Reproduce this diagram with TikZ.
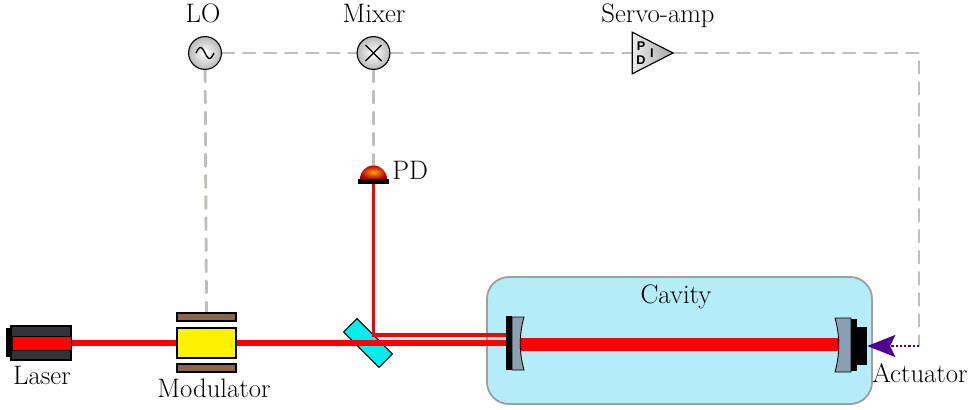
\documentclass[tikz,border=0pt]{standalone}
\usepackage{fontspec}
\newfontfamily\pidfont{Liberation Sans}
\usetikzlibrary{arrows.meta,shapes.geometric,backgrounds}

\definecolor{laserred}{RGB}{255,0,0}
\definecolor{housing}{RGB}{52,50,56}
\definecolor{platebrown}{RGB}{140,100,72}
\definecolor{cavityblue}{RGB}{180,236,250}
\definecolor{signalgray}{RGB}{192,192,186}
\definecolor{mirrorgray}{RGB}{138,160,178}
\definecolor{splitter}{RGB}{0,238,238}
\definecolor{feedback}{RGB}{75,0,145}

\begin{document}
\begin{tikzpicture}[x=0.025cm,y=-0.025cm,
    every node/.style={font=\fontsize{19}{22}\selectfont},
    tag/.style={anchor=base,inner sep=0pt},
    part/.style={draw=black,line width=0.8pt,inner sep=0pt},
    beam/.style={draw=laserred,line width=4pt},
    thinbeam/.style={draw=laserred,line width=2.2pt},
    fatbeam/.style={draw=laserred,line width=9.2pt},
    signal/.style={draw=signalgray,line width=2.1pt,dash pattern=on 8.5pt off 6.5pt,line cap=round},
    osc/.style={circle,part,minimum size=0.82cm,inner color=white,outer color=gray!55},
    pid/.style={inner sep=0pt,font=\pidfont\bfseries\fontsize{9}{10}\selectfont},
  ]
  \useasboundingbox (0,0) rectangle (976,409);

  % source and modulator
  \node[part,fill=housing,minimum width=1.5cm,minimum height=0.85cm] (laser) at (41,343) {};
  \fill[black] (6,328) rectangle (11,357);
  \filldraw[fill=laserred,draw=black,line width=0.6pt] (12,336) rectangle (71,350);
  \node[part,fill=yellow,minimum width=1.475cm,minimum height=0.75cm] (modulator) at (206.5,343) {};
  \node[part,fill=platebrown,minimum width=1.475cm,minimum height=0.2cm] (platetop) at (206.5,317) {};
  \node[part,fill=platebrown,minimum width=1.475cm,minimum height=0.2cm] (platebot) at (206.5,368) {};

  % electronics
  \node[osc] (lo) at (205,53) {};
  \draw[line width=1pt,shift={(lo.center)}] plot[domain=-9:9,samples=40,smooth] (\x,{5.5*sin(20*\x)});
  \node[osc] (mixer) at (373.5,53) {};
  \draw[line width=1pt] ([shift={(-8,-8)}]mixer.center) -- ([shift={(8,8)}]mixer.center)
                        ([shift={(-8,8)}]mixer.center) -- ([shift={(8,-8)}]mixer.center);
  \node[isosceles triangle,isosceles triangle apex angle=54,minimum size=1.02cm,part,
        left color=gray!15,right color=gray!70] (servo) at (645,53) {};
  \node[pid] (servoP) at (641,46) {P};
  \node[pid] (servoD) at (641,60) {D};
  \node[pid] (servoI) at (652,53) {I};

  % photodiode
  \node[fill=black,inner sep=0pt,minimum width=0.78cm,minimum height=0.125cm] (pd) at (373.5,181.5) {};
  \shade[inner color=orange!70!yellow,outer color=red!70!black]
    (360,179) arc[start angle=180,end angle=360,radius=13.5] -- cycle;

  % beam splitter, mirrors
  \node[part,fill=splitter,rotate=-45,minimum width=1.25cm,minimum height=0.475cm] (bs) at (368,343) {};
  \node[fill=black,inner sep=0pt,minimum width=0.15cm,minimum height=1.325cm] (mirrorL) at (509,343) {};
  \node[fill=black,inner sep=0pt,minimum width=0.25cm,minimum height=0.95cm] (actuator) at (862,346) {};
  \fill[black] (851,319) rectangle (857,371);
  \coordinate (fb) at (919,346);

  \begin{pgfonlayer}{background}
    \node[draw=gray!75,line width=1.3pt,fill=cavityblue,rounded corners=0.55cm,
          minimum width=9.625cm,minimum height=3.175cm] (cavity) at (679.5,340.5) {};
    \draw[fatbeam] ([yshift=-0.04cm]mirrorL.east) -- ([yshift=-0.04cm]mirrorL.east -| actuator.west);
    \draw[signal] (lo) -- (mixer);
    \draw[signal] (mixer) -- (servo);
    \draw[signal] (lo) -- (platetop);
    \draw[signal] (mixer) -- (pd);
    \draw[signal] (servo) -| (fb);
  \end{pgfonlayer}

  % optical paths
  \draw[beam] (laser.east) -- (modulator.west);
  \draw[beam] (modulator.east) -- (mirrorL.west);
  \draw[thinbeam] ([yshift=0.2cm]mirrorL.west) -| (pd.south);
  \filldraw[fill=mirrorgray,draw=black,line width=0.6pt]
    (512,317) -- (524,317) .. controls (519,335) and (519,352) .. (524,370) -- (512,370) -- cycle;
  \filldraw[fill=mirrorgray,draw=black,line width=0.6pt]
    (851,318) -- (835,318) .. controls (840,336) and (840,354) .. (835,372) -- (851,372) -- cycle;

  \draw[feedback,line width=1.4pt,dash pattern=on 1.6pt off 1.4pt,-{Stealth[length=7mm,width=5.5mm,inset=1.3mm]}] (fb) -- (actuator.east);

  % labels
  \node[tag] (laserlbl) at (42,384) {Laser};
  \node[tag] (modlbl) at (214,397) {Modulator};
  \node[tag] (lolbl) at (203,22) {LO};
  \node[tag] (mixerlbl) at (374,22) {Mixer};
  \node[tag] (servolbl) at (658,22) {Servo-amp};
  \node[tag,anchor=base west] (pdlbl) at (392,179) {PD};
  \node[tag] (cavitylbl) at (676,303) {Cavity};
  \node[tag] (actlbl) at (920,382) {Actuator};
\end{tikzpicture}
\end{document}
